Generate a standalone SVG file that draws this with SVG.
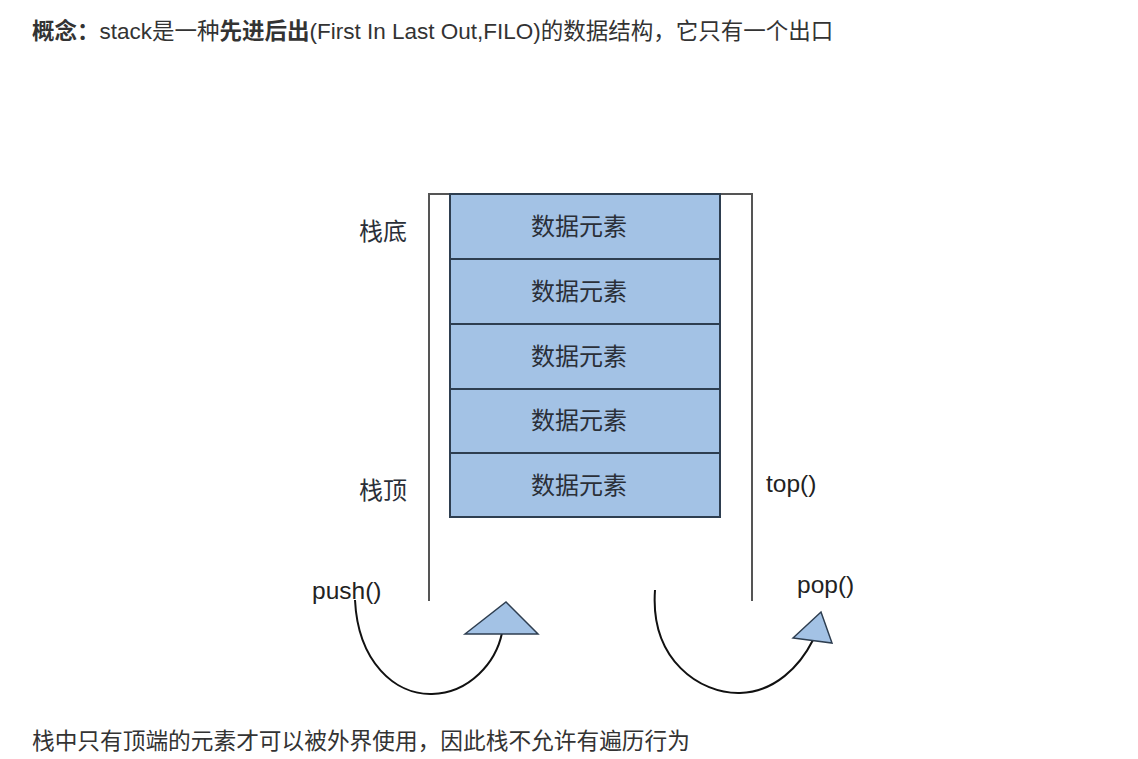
<svg xmlns="http://www.w3.org/2000/svg" width="1138" height="759" viewBox="0 0 1138 759">
<style>
.cjk{font-family:"Liberation Sans","Noto Sans CJK SC",sans-serif;fill:#333}
.lbl{font-family:"Liberation Sans","Noto Sans CJK SC",sans-serif;font-size:24.5px;fill:#222}
.box{fill:#a3c2e5;stroke:#2e3e50;stroke-width:2}
.el{font-family:"Noto Sans CJK SC",sans-serif;font-size:24px;fill:#2a2f38;text-anchor:middle}
.wall{stroke:#555;stroke-width:2;fill:none}
.curve{stroke:#111;stroke-width:2;fill:none}
.tri{fill:#a3c2e5;stroke:#2e3e50;stroke-width:1.5}
</style>
<rect width="1138" height="759" fill="#ffffff"/>
<g id="title">
<text x="32" y="39" class="cjk" font-size="22.5"><tspan font-weight="bold" fill="#333">概念：</tspan>stack是一种<tspan font-weight="bold">先进后出</tspan>(First In Last Out,FILO)的数据结构，它只有一个出口</text>
</g>
<g id="container">
<path class="wall" d="M429,601 V194 H752 V601"/>
</g>
<g id="el1"><rect class="box" x="450" y="194" width="270" height="65"/><text class="el" x="579" y="235">数据元素</text></g>
<g id="el2"><rect class="box" x="450" y="259" width="270" height="65"/><text class="el" x="579" y="300">数据元素</text></g>
<g id="el3"><rect class="box" x="450" y="324" width="270" height="65"/><text class="el" x="579" y="365">数据元素</text></g>
<g id="el4"><rect class="box" x="450" y="389" width="270" height="64"/><text class="el" x="579" y="429">数据元素</text></g>
<g id="el5"><rect class="box" x="450" y="453" width="270" height="64"/><text class="el" x="579" y="494">数据元素</text></g>
<g id="labels">
<text class="el" x="383" y="240" fill="#333">栈底</text>
<text class="el" x="383" y="499" fill="#333">栈顶</text>
<text class="lbl" x="766" y="492">top()</text>
<text class="lbl" x="312" y="599">push()</text>
<text class="lbl" x="797" y="593">pop()</text>
</g>
<g id="connectors">
<path class="curve" d="M355,600 C358,662 395,695 432,694 C470,693 496,662 502,633"/>
<polygon class="tri" points="465,634 506,602 538,634"/>
<path class="curve" d="M655,590 C650,660 700,694 740,693 C775,692 800,666 813,640"/>
<polygon class="tri" points="793,638 821,612 832,643"/>
</g>
<g id="footer">
<text x="32" y="749" class="cjk" font-size="22.7">栈中只有顶端的元素才可以被外界使用，因此栈不允许有遍历行为</text>
</g>
</svg>
